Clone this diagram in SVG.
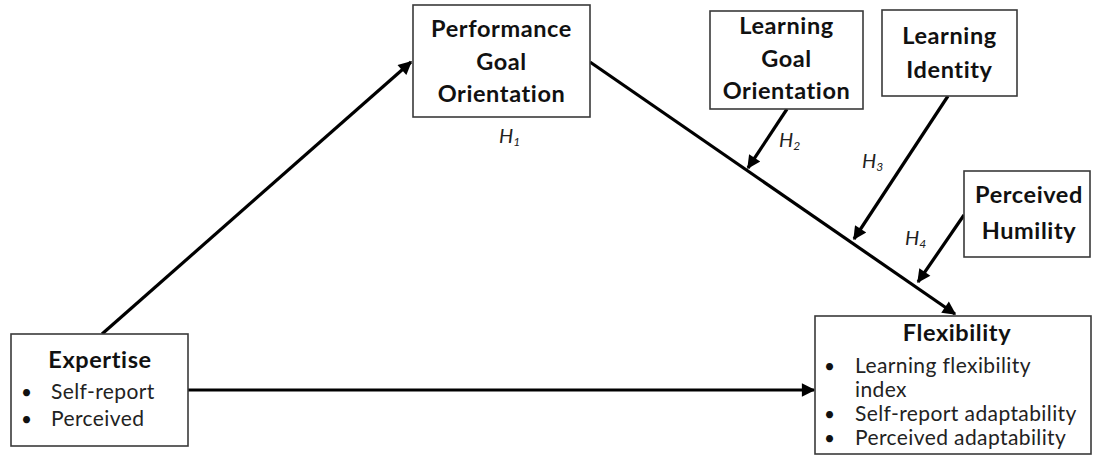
<svg xmlns="http://www.w3.org/2000/svg" width="1096" height="465" viewBox="0 0 1096 465">
  <style>
    text { font-variant-ligatures: none; font-feature-settings: "liga" 0, "clig" 0, "dlig" 0; }
    .box { fill: #ffffff; stroke: #3a3a3a; stroke-width: 1.6; }
    .title { font-family: Lato, "Open Sans", sans-serif; font-weight: bold; font-size: 23.5px; letter-spacing: 0.6px; fill: #111; text-anchor: middle; }
    .item { font-family: Lato, "Open Sans", sans-serif; font-size: 21px; letter-spacing: 0.4px; fill: #222; }
    .dot { font-family: Lato, "Open Sans", sans-serif; font-size: 19px; fill: #111; }
    .hyp { font-family: Lato, "Open Sans", sans-serif; font-style: italic; font-size: 20px; fill: #222; }
    .sub { font-size: 12px; }
    .edge { stroke: #000; stroke-width: 3.2; fill: none; marker-end: url(#head); }
  </style>
  <defs>
    <marker id="head" viewBox="0 0 10 10" refX="9" refY="5" markerWidth="5" markerHeight="4.2" orient="auto" markerUnits="strokeWidth">
      <path d="M0,0 L10,5 L0,10 Z" fill="#000"/>
    </marker>
  </defs>

  <rect width="1096" height="465" fill="#ffffff"/>

  <!-- connectors -->
  <g id="connectors">
    <line class="edge" x1="102" y1="334" x2="411" y2="62"/>
    <line class="edge" x1="188" y1="390" x2="814" y2="390"/>
    <line class="edge" x1="590" y1="62" x2="955" y2="314"/>
    <line class="edge" x1="787" y1="109" x2="748" y2="168"/>
    <line class="edge" x1="948" y1="96" x2="854" y2="239"/>
    <line class="edge" x1="964" y1="215" x2="918" y2="282"/>
    <text class="hyp" x="499" y="143">H<tspan class="sub" dy="3">1</tspan></text>
    <text class="hyp" x="779" y="147">H<tspan class="sub" dy="3">2</tspan></text>
    <text class="hyp" x="862" y="168">H<tspan class="sub" dy="3">3</tspan></text>
    <text class="hyp" x="905" y="245">H<tspan class="sub" dy="3">4</tspan></text>
  </g>

  <!-- Performance Goal Orientation -->
  <g id="performance-goal-orientation">
    <rect class="box" x="413" y="5" width="177" height="112"/>
    <text class="title" x="501.5" y="37">Performance</text>
    <text class="title" x="501.5" y="70">Goal</text>
    <text class="title" x="501.5" y="102">Orientation</text>
  </g>

  <!-- Learning Goal Orientation -->
  <g id="learning-goal-orientation">
    <rect class="box" x="710" y="11" width="153" height="98"/>
    <text class="title" x="786.5" y="34">Learning</text>
    <text class="title" x="786.5" y="67">Goal</text>
    <text class="title" x="786.5" y="99">Orientation</text>
  </g>

  <!-- Learning Identity -->
  <g id="learning-identity">
    <rect class="box" x="882" y="10" width="135" height="86"/>
    <text class="title" x="949.5" y="44">Learning</text>
    <text class="title" x="949.5" y="78">Identity</text>
  </g>

  <!-- Perceived Humility -->
  <g id="perceived-humility">
    <rect class="box" x="964" y="171" width="126" height="86"/>
    <text class="title" x="1029" y="203">Perceived</text>
    <text class="title" x="1029" y="239">Humility</text>
  </g>

  <!-- Expertise -->
  <g id="expertise">
    <rect class="box" x="11" y="334" width="177" height="112"/>
    <text class="title" x="100" y="368">Expertise</text>
    <text class="dot" x="21" y="399">•</text>
    <text class="item" x="51" y="399">Self-report</text>
    <text class="dot" x="21" y="426">•</text>
    <text class="item" x="51" y="426">Perceived</text>
  </g>

  <!-- Flexibility -->
  <g id="flexibility">
    <rect class="box" x="815" y="316" width="276" height="138"/>
    <text class="title" x="957" y="341">Flexibility</text>
    <text class="dot" x="824" y="373">•</text>
    <text class="item" x="855" y="373">Learning flexibility</text>
    <text class="item" x="855" y="397">index</text>
    <text class="dot" x="824" y="421">•</text>
    <text class="item" x="855" y="421">Self-report adaptability</text>
    <text class="dot" x="824" y="445">•</text>
    <text class="item" x="855" y="445">Perceived adaptability</text>
  </g>
</svg>
